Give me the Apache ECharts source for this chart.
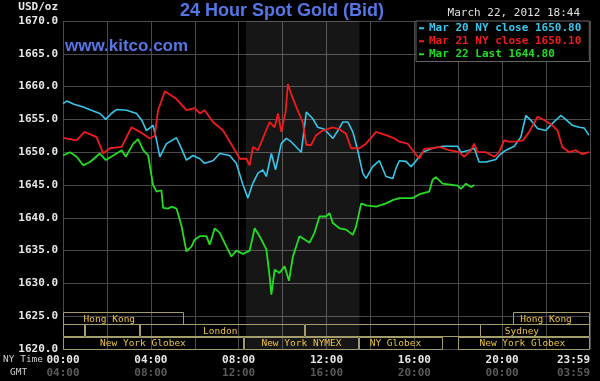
<!DOCTYPE html>
<html><head><meta charset="utf-8">
<script src="https://cdn.jsdelivr.net/npm/echarts@6/dist/echarts.min.js"></script>
<style>html,body{margin:0;padding:0;background:#000;}#c{width:600px;height:381px;}</style>
</head><body><div id="c"></div>
<script>
// ---- data ----
const seriesNames = ['Mar 20 NY close 1650.80', 'Mar 21 NY close 1650.10', 'Mar 22 Last 1644.80'];
const seriesColors = ['#35c7ec', '#f01c1c', '#22de22'];
// [hour (NY time), price]
const mar20 = [[0,1657.4],[0.17,1657.8],[0.5,1657.3],[0.92,1656.9],[1.2,1656.5],[1.68,1655.9],[1.95,1655.0],[2.2,1655.9],[2.44,1656.5],[2.9,1656.4],[3.35,1655.9],[3.6,1654.8],[3.8,1653.3],[4.1,1654.1],[4.25,1652.0],[4.41,1649.3],[4.71,1651.3],[5.17,1652.2],[5.4,1650.5],[5.62,1648.8],[5.92,1649.5],[6.23,1649.0],[6.45,1648.3],[6.83,1648.7],[7.14,1649.8],[7.59,1649.5],[7.89,1648.3],[8.2,1645.0],[8.42,1643.0],[8.65,1645.3],[8.88,1646.8],[9.1,1647.3],[9.26,1646.3],[9.49,1649.8],[9.68,1647.3],[9.94,1651.3],[10.17,1652.1],[10.39,1651.6],[10.62,1650.8],[10.85,1650.0],[11.08,1656.1],[11.38,1655.1],[11.6,1653.8],[11.91,1653.5],[12.29,1652.1],[12.52,1653.3],[12.74,1654.6],[12.97,1654.6],[13.2,1653.1],[13.42,1650.3],[13.65,1646.8],[13.8,1646.0],[14.1,1647.8],[14.41,1648.7],[14.71,1646.3],[15.02,1646.0],[15.17,1647.6],[15.32,1648.7],[15.62,1648.6],[15.85,1647.8],[16.08,1648.7],[16.38,1650.0],[16.83,1650.6],[17.29,1650.9],[17.97,1650.9],[18.12,1650.0],[18.5,1650.3],[18.73,1650.6],[18.95,1648.5],[19.26,1648.5],[19.71,1648.9],[19.86,1649.5],[20.17,1650.3],[20.55,1650.9],[20.85,1652.3],[21.08,1655.6],[21.3,1654.9],[21.61,1653.6],[21.98,1653.3],[22.29,1654.4],[22.67,1655.6],[22.89,1655.0],[23.2,1654.1],[23.5,1653.8],[23.73,1653.7],[23.95,1652.6]];
const mar21 = [[0,1652.2],[0.62,1651.8],[0.98,1653.1],[1.53,1652.3],[1.83,1649.8],[2.14,1650.6],[2.67,1650.8],[3.12,1653.8],[3.5,1653.1],[3.95,1652.1],[4.18,1652.5],[4.33,1656.4],[4.64,1659.3],[5.17,1658.1],[5.62,1656.4],[6.0,1656.7],[6.23,1655.9],[6.45,1656.4],[6.83,1654.6],[7.29,1653.3],[7.74,1650.8],[8.05,1649.0],[8.35,1649.0],[8.5,1648.0],[8.65,1650.8],[8.88,1650.3],[9.41,1654.6],[9.64,1653.8],[9.79,1655.9],[9.94,1653.1],[10.14,1656.2],[10.24,1660.4],[10.39,1658.9],[10.62,1656.9],[10.92,1654.6],[11.08,1651.1],[11.3,1651.1],[11.53,1652.6],[11.83,1653.3],[12.29,1653.8],[12.59,1653.5],[12.89,1652.8],[13.12,1650.6],[13.5,1650.6],[13.8,1651.3],[14.26,1653.1],[14.71,1652.6],[15.09,1652.1],[15.32,1651.6],[15.7,1651.3],[15.92,1650.3],[16.23,1649.0],[16.45,1650.5],[16.83,1650.6],[17.14,1650.8],[17.59,1650.3],[18.05,1650.0],[18.27,1649.3],[18.58,1650.3],[18.73,1651.3],[18.88,1650.0],[19.26,1650.0],[19.64,1649.3],[19.86,1650.0],[20.09,1651.8],[20.32,1651.6],[20.62,1651.6],[20.95,1651.8],[21.23,1653.1],[21.61,1655.4],[21.91,1654.9],[22.29,1654.1],[22.52,1653.3],[22.74,1650.8],[23.05,1650.0],[23.35,1650.3],[23.65,1649.7],[23.95,1650.0]];
const mar22 = [[0,1649.5],[0.32,1650.0],[0.62,1649.3],[0.92,1648.0],[1.23,1648.5],[1.68,1649.8],[1.95,1648.8],[2.29,1649.5],[2.67,1650.3],[2.86,1649.3],[3.2,1651.3],[3.42,1652.0],[3.65,1650.3],[3.88,1649.5],[4.1,1645.0],[4.26,1644.0],[4.48,1644.2],[4.56,1641.5],[4.79,1641.4],[4.94,1641.7],[5.17,1641.4],[5.4,1638.7],[5.62,1634.9],[5.85,1635.6],[6.0,1636.7],[6.23,1637.2],[6.53,1637.2],[6.68,1635.9],[6.91,1638.4],[7.14,1637.7],[7.44,1635.6],[7.67,1634.1],[7.89,1635.0],[8.2,1634.5],[8.5,1635.0],[8.73,1638.4],[8.95,1637.2],[9.26,1635.2],[9.41,1631.1],[9.49,1628.3],[9.64,1632.1],[9.86,1631.6],[10.09,1632.6],[10.29,1630.4],[10.47,1634.1],[10.77,1637.2],[11.0,1636.7],[11.23,1636.2],[11.45,1637.7],[11.68,1640.2],[11.98,1640.2],[12.14,1640.7],[12.29,1639.2],[12.59,1638.4],[12.89,1638.2],[13.2,1637.4],[13.35,1638.7],[13.58,1642.2],[13.8,1641.9],[14.26,1641.7],[14.71,1642.2],[15.02,1642.7],[15.32,1643.0],[15.92,1643.0],[16.23,1643.6],[16.68,1644.0],[16.83,1645.8],[16.98,1646.2],[17.29,1645.2],[17.97,1644.9],[18.12,1644.4],[18.35,1645.2],[18.58,1644.7],[18.73,1645.0]];
const nymexSession = [8.333, 13.5];
// trading sessions: [start hour, end hour, row (0 = top)]
const sessions = [[0,5.5,0],[20.5,24,0],[0,1,1],[1,3.5,1],[3.5,11,1],[11,19,1],[19,24,1],[0,8.25,2],[8.25,13.5,2],[13.5,17.33,2],[18,24,2]];
const sessionNames = ['Hong Kong','Hong Kong','','','London','','Sydney','New York Globex','New York NYMEX','NY Globex','New York Globex'];
const sessionLabelAt = [2.11,22.0,0,0,7.16,0,20.9,3.64,10.86,15.14,20.92];
const yMin = 1620, yMax = 1670, yStep = 5;
const xMin = 0, xMax = 24, xStep = 2, xLabelEvery = 4;
const gmtOffset = 4;
const titleText = '24 Hour Spot Gold (Bid)';
const siteText = 'www.kitco.com';
const stampText = 'March 22, 2012 18:44';

// ---- chart ----
const pad = n => (n < 10 ? '0' : '') + n;
const chart = echarts.init(document.getElementById('c'), null, {renderer: 'canvas'});
const mono = '"DejaVu Sans Mono", monospace';
const option = {
  backgroundColor: '#000',
  animation: false,
  title: {
    text: titleText, left: 180, top: 2, padding: 0,
    textStyle: {color: '#5676e6', fontFamily: '"Liberation Sans", Arial, sans-serif', fontWeight: 'bold', fontSize: 18}
  },
  legend: {
    orient: 'vertical', left: 416, top: 21, padding: [1, 8, 1, 3], itemGap: 0.5,
    itemWidth: 5, itemHeight: 2, icon: 'rect', selectedMode: false,
    backgroundColor: '#000', borderColor: '#666', borderWidth: 1, borderRadius: 0,
    textStyle: {fontFamily: mono, fontWeight: 'bold', fontSize: 11, lineHeight: 12.5},
    data: seriesNames.map((n, i) => ({name: n, textStyle: {color: seriesColors[i]}}))
  },
  grid: {left: 63, right: 10, top: 21, bottom: 32},
  xAxis: {
    type: 'value', min: xMin, max: xMax, interval: xStep,
    axisLine: {show: false}, axisTick: {show: false},
    splitLine: {show: true, lineStyle: {color: '#4a4a4a', width: 1}},
    axisLabel: {
      margin: 5, alignMaxLabel: 'right', showMaxLabel: true, showMinLabel: true,
      formatter: v => {
        if (v % xLabelEvery !== 0) return '';
        const ny = v >= 24 ? '23:59' : pad(v) + ':00';
        const g = v >= 24 ? '03:59' : pad((v + gmtOffset) % 24) + ':00';
        return '{a|' + ny + '}\n{b|' + g + '}';
      },
      rich: {
        a: {fontFamily: mono, fontWeight: 'bold', fontSize: 11, color: '#e8e8e8', lineHeight: 13},
        b: {fontFamily: mono, fontWeight: 'bold', fontSize: 11, color: '#5a5a5a', lineHeight: 13}
      }
    }
  },
  yAxis: {
    type: 'value', min: yMin, max: yMax, interval: yStep,
    name: 'USD/oz', nameLocation: 'end', nameGap: 8,
    nameTextStyle: {align: 'right', verticalAlign: 'bottom', padding: [0, 5, 0, 0], fontFamily: mono, fontWeight: 'bold', fontSize: 11, color: '#e8e8e8'},
    axisLine: {show: false}, axisTick: {show: false},
    splitLine: {show: true, lineStyle: {color: '#4a4a4a', width: 1}},
    axisLabel: {margin: 5, fontFamily: mono, fontWeight: 'bold', fontSize: 11, color: '#e8e8e8', formatter: v => v.toFixed(1)}
  },
  graphic: [
    {type: 'text', left: 65, top: 38, style: {text: siteText, fill: '#5676e6', font: 'bold 17px "Liberation Sans", Arial, sans-serif'}},
    {type: 'text', right: 20, top: 8, style: {text: stampText, fill: '#e0e0e0', font: '11px ' + mono}},
    {type: 'text', left: 3, top: 355, style: {text: 'NY Time', fill: '#cfcfcf', font: '9.5px ' + mono}},
    {type: 'text', left: 10, top: 368, style: {text: 'GMT', fill: '#cfcfcf', font: '9.5px ' + mono}}
  ],
  series: [
    {
      type: 'custom', name: 'sessions', silent: true, z: 1,
      data: sessions,
      renderItem: (params, api) => {
        const i = params.dataIndex;
        const p0 = api.coord([api.value(0), yMin]);
        const p1 = api.coord([api.value(1), yMin]);
        const row = api.value(2);
        const rowH = 12.3;
        const top = p0[1] - rowH * (3 - row);
        const children = [{
          type: 'rect',
          shape: {x: Math.round(p0[0]) + 0.5, y: Math.round(top) + 0.5, width: Math.round(p1[0] - p0[0]) - 1, height: Math.round(rowH)},
          style: {fill: 'none', stroke: '#a39d6b', lineWidth: 1}
        }];
        if (sessionNames[i]) {
          children.push({
            type: 'text', x: api.coord([sessionLabelAt[i], yMin])[0], y: top + rowH / 2 + 1,
            style: {text: sessionNames[i], fill: '#eac43e', font: '9.5px ' + mono, align: 'center', verticalAlign: 'middle'}
          });
        }
        return {type: 'group', children};
      }
    },
    {
      type: 'line', name: seriesNames[2], data: mar22, showSymbol: false, z: 3,
      lineStyle: {color: seriesColors[2], width: 1.8}, itemStyle: {color: seriesColors[2]},
      markArea: {silent: true, itemStyle: {color: 'rgba(255,255,255,0.085)'}, data: [[{xAxis: nymexSession[0]}, {xAxis: nymexSession[1]}]]}
    },
    {type: 'line', name: seriesNames[0], data: mar20, showSymbol: false, z: 4, lineStyle: {color: seriesColors[0], width: 1.6}, itemStyle: {color: seriesColors[0]}},
    {type: 'line', name: seriesNames[1], data: mar21, showSymbol: false, z: 5, lineStyle: {color: seriesColors[1], width: 1.8}, itemStyle: {color: seriesColors[1]}}
  ]
};
chart.setOption(option);
</script></body></html>
